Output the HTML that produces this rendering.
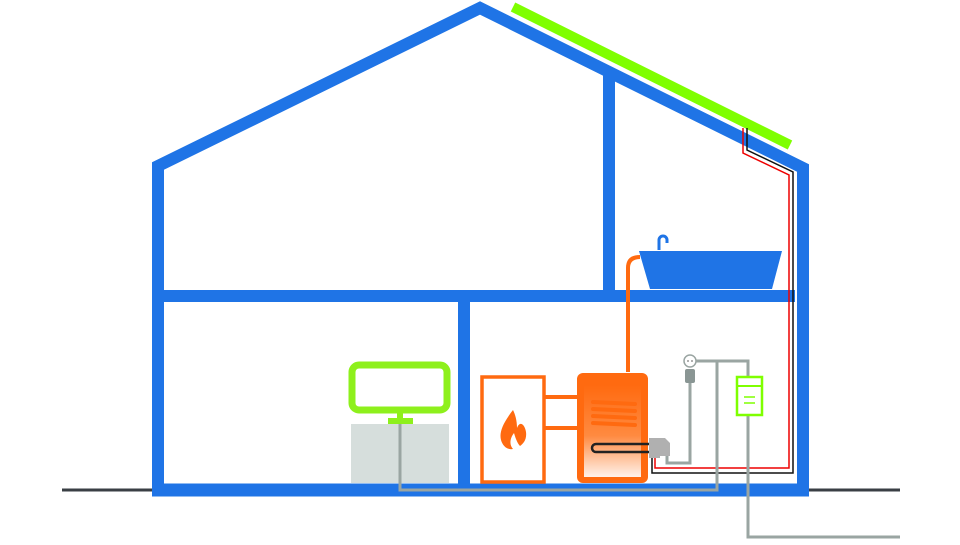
<!DOCTYPE html>
<html><head><style>html,body{margin:0;padding:0;background:#fff}</style></head>
<body>
<svg width="960" height="540" viewBox="0 0 960 540" xmlns="http://www.w3.org/2000/svg">
<defs>
<linearGradient id="tg" x1="0" y1="0" x2="0" y2="1">
<stop offset="0" stop-color="#ff6a10"/><stop offset="0.55" stop-color="#ff8a40"/><stop offset="1" stop-color="#fff2ea"/>
</linearGradient>
</defs>
<line x1="62" y1="490" x2="900" y2="490" stroke="#3a3f44" stroke-width="3"/>
<rect x="351" y="424" width="98" height="59" fill="#d6dedc"/>
<!-- house -->
<g stroke="#1f74e6" stroke-width="12" fill="none">
<polyline points="158,490 158,166 480,8 803,168 803,490"/>
<line x1="152" y1="490" x2="809" y2="490" stroke-width="13"/>
<line x1="158" y1="296" x2="795" y2="296"/>
<line x1="609" y1="75" x2="609" y2="296"/>
<line x1="464" y1="296" x2="464" y2="490"/>
</g>
<line x1="513" y1="7" x2="790" y2="145" stroke="#7fff00" stroke-width="10"/>
<!-- solar wires -->
<polyline points="743,128 743,153 789,175 789,468 655,468 655,455" fill="none" stroke="#e00" stroke-width="1.5"/>
<polyline points="747,128 747,150 793,172 793,473 652,473 652,455" fill="none" stroke="#111" stroke-width="1.5"/>
<!-- bath -->
<path d="M628,372 L628,268 Q628,257 640,257" fill="none" stroke="#ff6a10" stroke-width="4"/>
<path d="M659,250 L659,240 A4,4 0 0 1 667,240 L667,243" fill="none" stroke="#1f74e6" stroke-width="3"/>
<polygon points="639,251 782,251 772,289 650,289" fill="#1f74e6"/>
<!-- boiler -->
<rect x="482" y="377" width="62" height="105" fill="none" stroke="#ff6a10" stroke-width="3.5"/>
<line x1="544" y1="397" x2="580" y2="397" stroke="#ff6a10" stroke-width="4"/>
<line x1="544" y1="428" x2="580" y2="428" stroke="#ff6a10" stroke-width="4"/>
<path d="M513,410 C503,423 499,432 501,440 C503,447 508,450 513,449 C509,445 510,438 514,433 C516,440 518,444 520,446 C523,444 527,440 526,432 C525,425 520,420 517,428 C517,420 515,414 513,410 Z" fill="#ff6a10"/>
<rect x="577" y="373" width="71" height="110" rx="6" fill="#ff6a10"/>
<rect x="584" y="385" width="57" height="92" fill="url(#tg)"/>
<g stroke="#ff6a10" stroke-width="4" stroke-linecap="round">
<line x1="593" y1="402" x2="635" y2="404"/><line x1="593" y1="409" x2="635" y2="411"/>
<line x1="593" y1="416" x2="635" y2="418"/><line x1="593" y1="423" x2="635" y2="425"/>
</g>
<path d="M650,444 L596,444 A4,4 0 0 0 596,452 L650,452" fill="none" stroke="#222" stroke-width="2.5"/>
<path d="M649,438 L665,438 L670,443 L670,456 L660,456 L660,458 L649,458 Z" fill="#b0b0b0"/>
<!-- grey pipes -->
<g fill="none" stroke="#9aa5a2" stroke-width="3">
<polyline points="400,420 400,490 717,490 717,361 748,361 748,537 900,537"/>
<polyline points="695,361 717,361"/>
<polyline points="690,383 690,463 667,463 667,456"/>
</g>
<circle cx="690" cy="361" r="6" fill="#fff" stroke="#9aa5a2" stroke-width="1.5"/>
<circle cx="688" cy="361" r="0.9" fill="#777"/><circle cx="692" cy="361" r="0.9" fill="#777"/>
<rect x="685" y="369" width="10" height="14" rx="2" fill="#8a9694"/>
<rect x="737" y="377" width="25" height="38" fill="#fff" stroke="#7fff00" stroke-width="2.5"/>
<line x1="737" y1="386" x2="762" y2="386" stroke="#7fff00" stroke-width="2"/>
<line x1="744" y1="397" x2="755" y2="397" stroke="#7fff00" stroke-width="1.5"/>
<line x1="744" y1="403" x2="755" y2="403" stroke="#7fff00" stroke-width="1.5"/>
<!-- monitor -->
<rect x="352" y="365" width="95" height="45" rx="7" fill="none" stroke="#8ef01c" stroke-width="7"/>
<rect x="397" y="411" width="6" height="8" fill="#8ef01c"/>
<rect x="388" y="418" width="25" height="6" fill="#8ef01c"/>
</svg>
</body></html>
